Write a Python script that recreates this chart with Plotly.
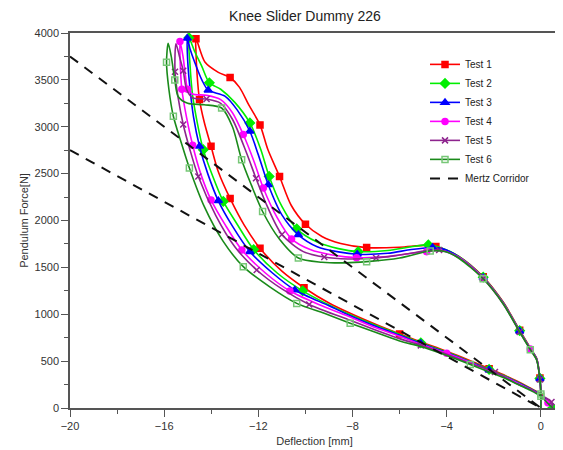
import plotly.graph_objects as go

# ---------------- data ----------------
t1_x = [0.5, 0.3, 0.0, -0.5, -1.0, -1.5, -2.2, -3.0, -4.0, -5.1, -6.0, -7.0, -8.1, -9.0, -10.06, -11.0, -11.93, -12.6, -13.2, -13.7, -14.01, -14.3, -14.5, -14.6, -14.65, -14.65,
        -14.27, -13.7, -13.2, -12.8, -12.4, -11.93, -11.6, -11.1, -10.6, -10.0, -9.3, -8.5, -7.4, -6.0, -4.9, -4.46, -3.5, -2.45, -1.6, -0.9, -0.45, -0.18, -0.04, 0.0, 0.0]
t1_y = [0, 70, 150, 220, 285, 345, 420, 505, 605, 705, 790, 890, 1010, 1120, 1283, 1460, 1704, 1950, 2235, 2520, 2791, 3050, 3290, 3550, 3800, 3940,
        3690, 3580, 3525, 3420, 3230, 3020, 2760, 2470, 2160, 1960, 1830, 1755, 1711, 1715, 1735, 1722, 1620, 1400, 1130, 830, 640, 530, 320, 150, 0]
t1_m = [6, 10, 14, 16, 18, 20, 22, 25, 28, 31, 33, 35, 38, 41, 43, 45, 48]

t2_x = [0.5, 0.3, 0.0, -0.5, -1.0, -1.5, -2.2, -3.0, -4.0, -5.1, -6.0, -7.0, -8.1, -9.0, -10.12, -11.2, -12.2, -12.9, -13.49, -13.95, -14.34, -14.6, -14.8, -14.9, -14.95,
        -14.7, -14.41, -14.08, -13.6, -13.0, -12.36, -11.9, -11.54, -11.0, -10.37, -9.5, -8.6, -7.76, -6.5, -5.5, -4.78, -4.3, -3.5, -2.45, -1.6, -0.9, -0.45, -0.18, -0.04, 0.0, 0.0]
t2_y = [0, 65, 145, 215, 278, 338, 412, 495, 597, 695, 785, 880, 995, 1100, 1250, 1440, 1690, 1960, 2203, 2480, 2756, 3050, 3350, 3650, 3950,
        3800, 3650, 3469, 3400, 3260, 3041, 2760, 2470, 2150, 1911, 1770, 1700, 1668, 1680, 1720, 1740, 1715, 1620, 1395, 1125, 825, 635, 525, 315, 150, 0]
t2_m = [0, 6, 9, 14, 16, 18, 20, 24, 27, 30, 32, 34, 37, 40, 43, 45, 48]

t3_x = [0.5, 0.3, 0.0, -0.5, -1.0, -1.5, -2.2, -3.0, -4.0, -5.1, -6.0, -7.0, -8.1, -9.0, -10.45, -11.4, -12.36, -13.1, -13.7, -14.15, -14.5, -14.75, -14.9, -15.0, -15.02,
        -14.9, -14.7, -14.4, -14.13, -13.42, -12.9, -12.36, -12.0, -11.58, -11.0, -10.3, -9.5, -8.6, -7.8, -6.5, -5.5, -4.6, -4.2, -3.5, -2.45, -1.6, -0.9, -0.45, -0.18, -0.04, 0.0, 0.0]
t3_y = [0, 60, 140, 210, 272, 332, 405, 490, 590, 688, 775, 870, 985, 1090, 1259, 1440, 1668, 1940, 2210, 2500, 2791, 3100, 3400, 3700, 3943,
        3830, 3686, 3500, 3390, 3326, 3180, 2952, 2700, 2382, 2060, 1847, 1720, 1665, 1640, 1650, 1690, 1712, 1700, 1615, 1390, 1120, 820, 632, 522, 312, 150, 0]
t3_m = [6, 9, 14, 16, 18, 20, 24, 28, 31, 33, 35, 38, 41, 44, 46, 49]

t4_x = [0.5, 0.3, 0.0, -0.5, -1.0, -1.5, -2.2, -3.0, -4.0, -5.1, -6.0, -7.0, -8.1, -9.3, -10.66, -11.7, -12.7, -13.4, -14.01, -14.45, -14.79, -15.05, -15.25, -15.32, -15.33,
        -15.2, -15.1, -15.0, -14.8, -14.2, -13.6, -13.1, -12.64, -12.2, -11.79, -11.2, -10.59, -9.8, -8.8, -7.83, -6.5, -5.5, -4.85, -4.2, -3.5, -2.45, -1.6, -0.9, -0.45, -0.18, -0.04, 0.0, 0.0]
t4_y = [0, 55, 135, 205, 268, 328, 400, 485, 583, 680, 765, 855, 970, 1090, 1248, 1440, 1686, 1950, 2220, 2500, 2802, 3100, 3400, 3700, 3910,
        3750, 3550, 3400, 3350, 3335, 3290, 3150, 2917, 2640, 2346, 2030, 1804, 1690, 1630, 1604, 1615, 1650, 1668, 1680, 1610, 1385, 1118, 818, 630, 520, 310, 150, 0]
t4_m = [1, 8, 14, 16, 18, 20, 22, 24, 27, 32, 34, 36, 39, 42, 45, 48]

t5_x = [0.5, 0.45, 0.2, -0.3, -1.0, -1.95, -3.0, -4.0, -5.1, -6.0, -7.0, -8.1, -9.84, -11.0, -12.07, -13.0, -13.8, -14.55, -14.9, -15.19, -15.4, -15.54, -15.5,
        -15.35, -15.19, -15.05, -14.8, -14.2, -13.6, -13.1, -12.5, -12.1, -11.62, -11.0, -10.09, -9.2, -8.2, -7.0, -5.8, -4.32, -3.5, -2.45, -1.6, -0.9, -0.45, -0.18, -0.04, 0.0, 0.0]
t5_y = [0, 64, 110, 180, 255, 385, 475, 573, 668, 740, 830, 935, 1105, 1270, 1472, 1720, 2050, 2470, 2750, 3024, 3300, 3587, 3885,
        3750, 3597, 3400, 3310, 3295, 3250, 3080, 2720, 2450, 2150, 1850, 1668, 1610, 1590, 1600, 1640, 1686, 1605, 1380, 1112, 812, 625, 515, 305, 150, 0]
t5_m = [1, 5, 8, 12, 14, 17, 19, 21, 24, 27, 31, 33, 35, 37, 39, 41, 43, 46]

t6_x = [0.5, 0.3, 0.0, -0.5, -1.0, -1.5, -2.2, -3.0, -4.0, -5.1, -6.0, -7.0, -8.1, -9.2, -10.37, -11.5, -12.64, -13.5, -14.3, -14.93, -15.3, -15.61, -15.8, -15.9, -15.83,
        -15.7, -15.55, -15.4, -15.0, -14.3, -13.56, -13.1, -12.71, -12.3, -11.82, -11.1, -10.3, -9.3, -8.3, -7.4, -6.0, -4.7, -4.0, -3.5, -2.45, -1.6, -0.9, -0.45, -0.18, -0.04, 0.0, 0.0]
t6_y = [0, 50, 125, 195, 255, 315, 385, 465, 560, 655, 715, 805, 905, 1010, 1116, 1290, 1508, 1780, 2150, 2560, 2850, 3112, 3400, 3687, 3890,
        3750, 3500, 3320, 3250, 3235, 3200, 3000, 2649, 2380, 2096, 1800, 1600, 1555, 1548, 1561, 1600, 1675, 1665, 1600, 1378, 1110, 810, 622, 512, 302, 150, 0]
t6_m = [2, 7, 12, 14, 16, 19, 21, 23, 26, 30, 32, 34, 36, 39, 41, 44, 47, 50]

mertz_x = [-20, 0]
mertz_upper = [3750, 0]
mertz_lower = [2750, 0]

names = ["Test 1", "Test 2", "Test 3", "Test 4", "Test 5", "Test 6"]
x_ticks = [-20, -16, -12, -8, -4, 0]
y_ticks = [0, 500, 1000, 1500, 2000, 2500, 3000, 3500, 4000]

# ---------------- styles ----------------
series = [(t1_x, t1_y, t1_m), (t2_x, t2_y, t2_m), (t3_x, t3_y, t3_m),
          (t4_x, t4_y, t4_m), (t5_x, t5_y, t5_m), (t6_x, t6_y, t6_m)]
colors = ["#ff0000", "#00ee00", "#0000ff", "#ff00ff", "#8e248e", "#1a8a1a"]
symbols = ["square", "diamond", "triangle-up", "circle", "x-thin-open", "square-open"]
msizes = [6, 7, 7, 6, 6, 6]
mcolors = ["#ff0000", "#00ee00", "#0000ff", "#ff00ff", "#8e248e", "#77c777"]

fig = go.Figure()
for (xs, ys, mk), nm, c, s, ms, mc in zip(series, names, colors, symbols, msizes, mcolors):
    fig.add_trace(go.Scatter(
        x=xs, y=ys, name=nm, mode="lines+markers",
        line=dict(color=c, width=1.6, shape="spline", smoothing=0.8),
        marker=dict(symbol=s, size=ms, color=mc, line=dict(color=mc, width=1.5)),
        selectedpoints=mk,
        selected=dict(marker=dict(opacity=1)),
        unselected=dict(marker=dict(opacity=0)),
    ))

fig.add_trace(go.Scatter(x=mertz_x, y=mertz_upper, name="Mertz Corridor", mode="lines",
                         line=dict(color="#111111", width=2, dash="10px,8px"),
                         legendgroup="mertz"))
fig.add_trace(go.Scatter(x=mertz_x, y=mertz_lower, name="Mertz Corridor", mode="lines",
                         line=dict(color="#111111", width=2, dash="10px,8px"),
                         legendgroup="mertz", showlegend=False))

tick_font = dict(size=11, color="#333333", family="Liberation Sans, Arial")
axis_common = dict(showline=True, linecolor="#555555", linewidth=1.5, ticks="outside",
                   ticklen=7, tickwidth=1.2, tickcolor="#555555", showgrid=False, zeroline=False,
                   tickfont=tick_font)

fig.update_layout(
    width=555, height=442,
    margin=dict(l=62, r=4, t=25, b=42),
    paper_bgcolor="white", plot_bgcolor="white",
    font=dict(family="Liberation Sans, Arial", color="#222222"),
    title=dict(text="Knee Slider Dummy 226", x=0.535, xanchor="center", y=0.993, yanchor="top",
               pad=dict(t=0, b=0), font=dict(size=14, color="#222222")),
    xaxis=dict(range=[-20, 0.77], tickvals=x_ticks, mirror=True,
               minor=dict(dtick=2, ticks="outside", ticklen=4, tickcolor="#555555"),
               title=dict(text="Deflection [mm]", font=dict(size=11, color="#333333"), standoff=6),
               **axis_common),
    yaxis=dict(range=[0, 4000], tickvals=y_ticks,
               minor=dict(dtick=250, ticks="outside", ticklen=4, tickcolor="#555555"),
               title=dict(text="Pendulum Force[N]", font=dict(size=11, color="#333333"), standoff=4),
               **axis_common),
    xaxis2=dict(range=[-20, 0.77], tickvals=x_ticks, overlaying="x", anchor="y", side="bottom",
                showline=False, showgrid=False, zeroline=False, showticklabels=False,
                ticks="inside", ticklen=4, tickwidth=1.2, tickcolor="#555555",
                minor=dict(dtick=2, ticks="inside", ticklen=3, tickcolor="#555555")),
    yaxis2=dict(range=[0, 4000], tickvals=y_ticks, overlaying="y", anchor="x", side="left",
                showline=False, showgrid=False, zeroline=False, showticklabels=False,
                ticks="inside", ticklen=4, tickwidth=1.2, tickcolor="#555555",
                minor=dict(dtick=250, ticks="inside", ticklen=3, tickcolor="#555555")),
    legend=dict(x=0.726, y=0.955, xanchor="left", yanchor="top", bgcolor="rgba(0,0,0,0)",
                font=dict(size=10, color="#222222"), tracegroupgap=0),
    showlegend=True,
)

fig.write_html("out.html")
